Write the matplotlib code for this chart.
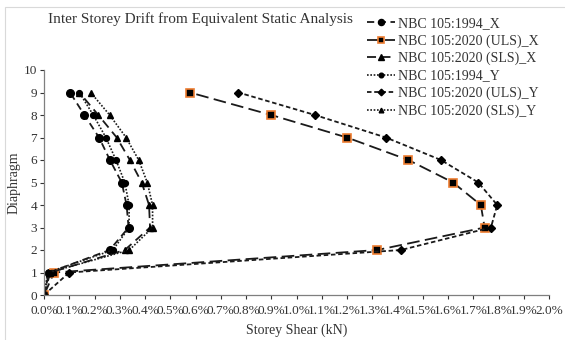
import matplotlib
matplotlib.use("Agg")
import matplotlib.pyplot as plt
from matplotlib.patches import Rectangle
from matplotlib.ticker import PercentFormatter

plt.rcParams['font.family'] = ['Liberation Serif', 'DejaVu Serif']

# diaphragm levels and drift (%) per series
floors = [0, 1, 2, 3, 4, 5, 6, 7, 8, 9]
nbc1994_x = [0.0, 0.02, 0.26, 0.335, 0.327, 0.308, 0.261, 0.218, 0.16, 0.103]
uls2020_x = [0.0, 0.04, 1.32, 1.745, 1.73, 1.62, 1.443, 1.20, 0.90, 0.578]
sls2020_x = [0.0, 0.025, 0.32, 0.42, 0.416, 0.387, 0.34, 0.288, 0.215, 0.14]
nbc1994_y = [0.0, 0.015, 0.273, 0.337, 0.337, 0.32, 0.285, 0.245, 0.195, 0.14]
uls2020_y = [0.0, 0.10, 1.414, 1.77, 1.795, 1.72, 1.572, 1.354, 1.073, 0.77]
sls2020_y = [0.0, 0.02, 0.338, 0.43, 0.43, 0.409, 0.375, 0.325, 0.26, 0.185]

labels = ['NBC 105:1994_X', 'NBC 105:2020 (ULS)_X', 'NBC 105:2020 (SLS)_X',
          'NBC 105:1994_Y', 'NBC 105:2020 (ULS)_Y', 'NBC 105:2020 (SLS)_Y']

ink = '#1a1a1a'
txt = '#333333'
fig = plt.figure(figsize=(5.65, 3.4), dpi=100)
ax = fig.add_axes([44 / 565, 45 / 340, 505 / 565, 225 / 340])

ax.plot(nbc1994_x, floors, color=ink, ls=(0, (4, 2.5)), lw=1.3,
        marker='o', ms=5.5, mfc='black', mec='black', label=labels[0])
ax.plot(uls2020_x, floors, color=ink, ls=(0, (7, 3)), lw=1.3,
        marker='s', ms=6.2, mfc='black', mec='#ED7D31', mew=1.2, label=labels[1])
ax.plot(sls2020_x, floors, color=ink, ls=(0, (5, 3)), lw=1.3,
        marker='^', ms=4.8, mfc='black', mec='black', label=labels[2])
ax.plot(nbc1994_y, floors, color=ink, ls=(0, (1, 1)), lw=1.2,
        marker='o', ms=4.2, mfc='black', mec='black', label=labels[3])
ax.plot(uls2020_y, floors, color=ink, ls=(0, (2.5, 1.5)), lw=1.3,
        marker='D', ms=4.2, mfc='black', mec='black', label=labels[4])
ax.plot(sls2020_y, floors, color=ink, ls=(0, (1, 1)), lw=1.2,
        marker='^', ms=4.2, mfc='black', mec='black', label=labels[5])

ax.set_xlim(0, 2.0)
ax.set_ylim(0, 10)
ax.set_xticks([i / 10 for i in range(21)])
ax.set_yticks(range(11))
ax.xaxis.set_major_formatter(PercentFormatter(decimals=1))
ax.tick_params(labelsize=9.5, colors=txt, length=3, width=0.8, pad=2)
ax.tick_params(axis='x', pad=4)
for side in ['top', 'right']:
    ax.spines[side].set_visible(False)
for side in ['left', 'bottom']:
    ax.spines[side].set_color('#7f7f7f')
    ax.spines[side].set_linewidth(0.9)

ax.set_xlabel('Storey Shear (kN)', fontsize=10, color=txt, labelpad=5)
ax.set_ylabel('Diaphragm', fontsize=10, color=txt)
ax.yaxis.set_label_coords(-23 / 505, 0.5)

fig.text(200 / 565, 1 - 19 / 340, 'Inter Storey Drift from Equivalent Static Analysis',
         fontsize=11, color=txt, ha='center', va='center')

fig.legend(loc='upper left', bbox_to_anchor=(360 / 565, 1 - 10 / 340), frameon=False,
           fontsize=10, handlelength=2.0, handletextpad=0.2, labelspacing=0.3,
           markerscale=0.8, borderpad=0, labelcolor=txt)

# faint outer frame around the chart area
fig.patches.append(Rectangle((5 / 565, -0.1), 1.2, 1 - 7 / 340 + 0.1, transform=fig.transFigure,
                             fill=False, edgecolor='#d9d9d9', lw=0.8))

fig.savefig('out.png', dpi=100)
